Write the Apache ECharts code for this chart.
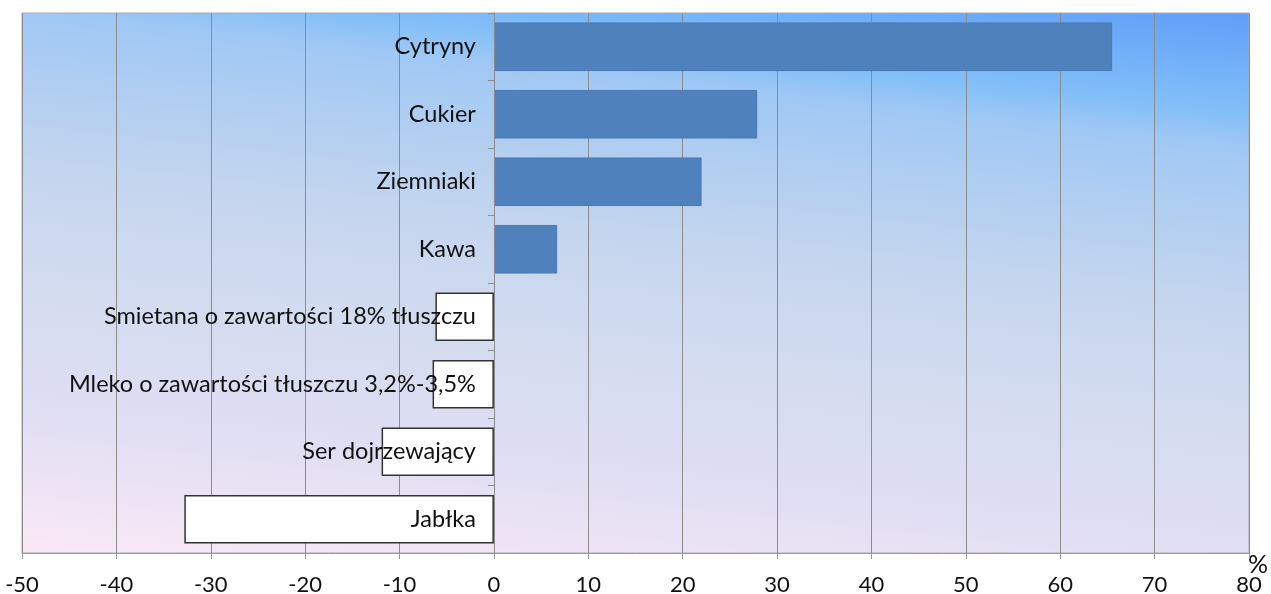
<!DOCTYPE html>
<html>
<head>
<meta charset="utf-8">
<script src="https://cdn.jsdelivr.net/npm/echarts@6/dist/echarts.min.js"></script>
<style>
  html, body { margin: 0; padding: 0; background: #fff; }
  #chart { width: 1271px; height: 594px; }
</style>
</head>
<body>
<div id="chart"></div>
<script>
// kategorie (od góry)
const categories = [
  'Cytryny',
  'Cukier',
  'Ziemniaki',
  'Kawa',
  'Smietana o zawartości 18% tłuszczu',
  'Mleko o zawartości tłuszczu 3,2%-3,5%',
  'Ser dojrzewający',
  'Jabłka'
];
// zmiana w %
const changes = [65.5, 27.9, 22.0, 6.7, -6.2, -6.5, -11.9, -32.8];

const FONT = 'Lato, "Open Sans", sans-serif';
const GRID_LEFT = 22;

const chart = echarts.init(document.getElementById('chart'));

chart.setOption({
  animation: false,
  grid: {
    left: GRID_LEFT, right: 22, top: 13, bottom: 41,
    containLabel: false,
    outerBoundsMode: 'none',
    show: true,
    borderColor: '#a8a8b8',
    borderWidth: 1,
    // tło: niebieski w prawym górnym rogu -> różowy w lewym dolnym
    backgroundColor: new echarts.graphic.LinearGradient(1, 0, 0.94, 1.236, [
      { offset: 0, color: '#5f9ef8' },
      { offset: 0.15, color: '#82bff8' },
      { offset: 0.2, color: '#a0c8f4' },
      { offset: 0.43, color: '#c4d5ee' },
      { offset: 0.61, color: '#d4dcf0' },
      { offset: 0.78, color: '#dfdef3' },
      { offset: 1, color: '#fae8f6' }
    ])
  },
  xAxis: {
    type: 'value',
    min: -50, max: 80, interval: 10,
    axisLine: { show: true, lineStyle: { color: '#9a9a9a', width: 1 } },
    axisTick: { show: true, length: 6, lineStyle: { color: '#9a9a9a' } },
    axisLabel: { color: '#111', fontSize: 22, fontFamily: FONT, margin: 21 },
    splitLine: { show: true, lineStyle: { color: '#8c8c8c', width: 1 } }
  },
  yAxis: {
    type: 'category',
    data: categories,
    inverse: true,
    z: 5,
    axisLine: { show: true, onZero: false, lineStyle: { color: '#8c8c8c', width: 1 } },
    axisTick: { show: true, length: 6, lineStyle: { color: '#8c8c8c' } },
    axisLabel: { color: '#111', fontSize: 23.5, fontFamily: FONT, margin: 18 },
    splitLine: { show: false }
  },
  series: [{
    type: 'bar',
    data: changes.map(v => ({
      value: v,
      itemStyle: v >= 0
        ? { color: '#4f81bd', borderColor: '#4a7ab5', borderWidth: 1 }
        : { color: '#ffffff', borderColor: '#333333', borderWidth: 1.5 }
    })),
    barCategoryGap: '28%'
  }],
  graphic: [{
    type: 'text',
    left: 1248, top: 552,
    style: { text: '%', fontSize: 25, fontFamily: FONT, fill: '#111' }
  }]
});

// przesunięcie osi kategorii na pozycję zera osi wartości
const zeroX = chart.convertToPixel({ xAxisIndex: 0 }, 0);
chart.setOption({ yAxis: { offset: -(zeroX - GRID_LEFT) } });
</script>
</body>
</html>
